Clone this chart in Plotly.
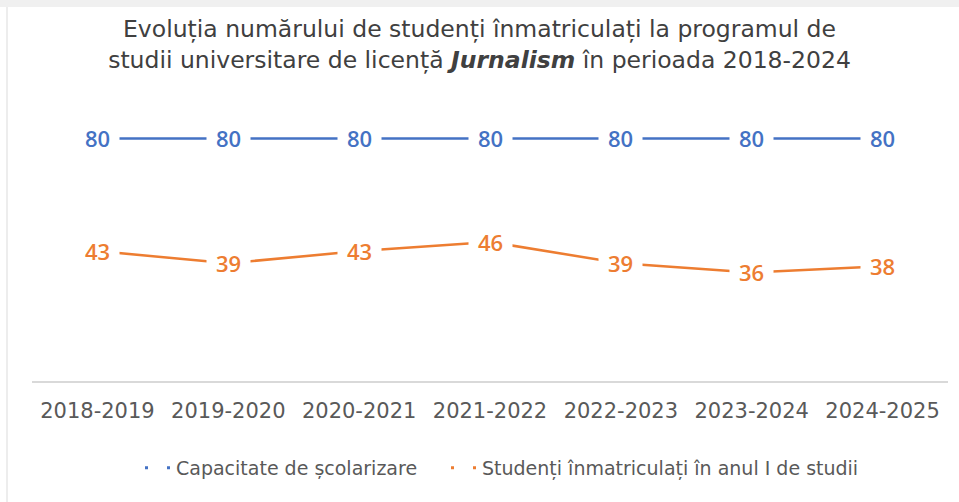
import plotly.graph_objects as go

categories = ["2018-2019", "2019-2020", "2020-2021", "2021-2022", "2022-2023", "2023-2024", "2024-2025"]
capacitate = [80, 80, 80, 80, 80, 80, 80]
inmatriculati = [43, 39, 43, 46, 39, 36, 38]
series_names = ["Capacitate de școlarizare", "Studenți înmatriculați în anul I de studii"]
colors = ["#4472C4", "#ED7D31"]

FONT = "DejaVu Sans"
LABEL_FONT = "Open Sans"
W, H = 959, 502
L, R, T, B = 32, 11, 108, 120
PW, PH = W - L - R, H - T - B

fig = go.Figure()

legend_ids = ["legend", "legend2"]
for name, vals, col, lid in zip(series_names, [capacitate, inmatriculati], colors, legend_ids):
    fig.add_trace(go.Scatter(x=categories, y=vals, mode="lines", name=name,
                             line=dict(color=col, width=2.5), showlegend=False,
                             hoverinfo="skip"))
    fig.add_trace(go.Scatter(x=[None], y=[None], mode="lines", name=name, legend=lid,
                             line=dict(color=col, width=3, dash="0px,4px,3px,19px,3px,100px"),
                             showlegend=True))
    for c, v in zip(categories, vals):
        fig.add_annotation(x=c, y=v, text=str(v), showarrow=False,
                           font=dict(family=LABEL_FONT, size=22, color=col, weight=600),
                           bgcolor="white", borderpad=9)

# faint frame of the original screenshot (top band and left edge)
fig.add_shape(type="rect", xref="paper", yref="paper",
              x0=-L / PW, x1=1 + R / PW, y0=1 + (T - 7) / PH, y1=1 + T / PH,
              fillcolor="#F0F0F0", line=dict(width=0), layer="below")
fig.add_shape(type="line", xref="paper", yref="paper",
              x0=(7 - L) / PW, x1=(7 - L) / PW, y0=-B / PH, y1=1 + (T - 7) / PH,
              line=dict(color="#EDEDED", width=2), layer="below")

legend_y = (T + PH - 468) / PH
legend_font = dict(family=FONT, size=19, color="#595959")

fig.update_layout(
    width=W, height=H,
    margin=dict(l=L, r=R, t=T, b=B),
    paper_bgcolor="white", plot_bgcolor="white",
    title=dict(text="Evoluția numărului de studenți înmatriculați la programul de<br>studii universitare de licență <b><i>Jurnalism</i></b> în perioada 2018-2024",
               x=0.5, xanchor="center", y=1 - 37 / H, yanchor="middle",
               font=dict(family=FONT, size=23.5, color="#404040")),
    xaxis=dict(type="category", range=[-0.5, 6.5], showgrid=False, showline=False, zeroline=False,
               ticks="", ticklabelstandoff=14, automargin=False,
               tickfont=dict(family=FONT, size=21, color="#595959")),
    yaxis=dict(range=[0, 90], showgrid=False, zeroline=True, zerolinecolor="#D9D9D9",
               zerolinewidth=1.5, showticklabels=False, ticks="", automargin=False),
    legend=dict(orientation="h", x=(136 - L) / PW, xanchor="left",
                y=legend_y, yanchor="middle", font=legend_font, itemclick=False),
    legend2=dict(orientation="h", x=(442 - L) / PW, xanchor="left",
                 y=legend_y, yanchor="middle", font=legend_font, itemclick=False),
    showlegend=True,
)

fig.write_html("out.html", config={"displayModeBar": False},
               post_script="document.body.style.margin='0';")
